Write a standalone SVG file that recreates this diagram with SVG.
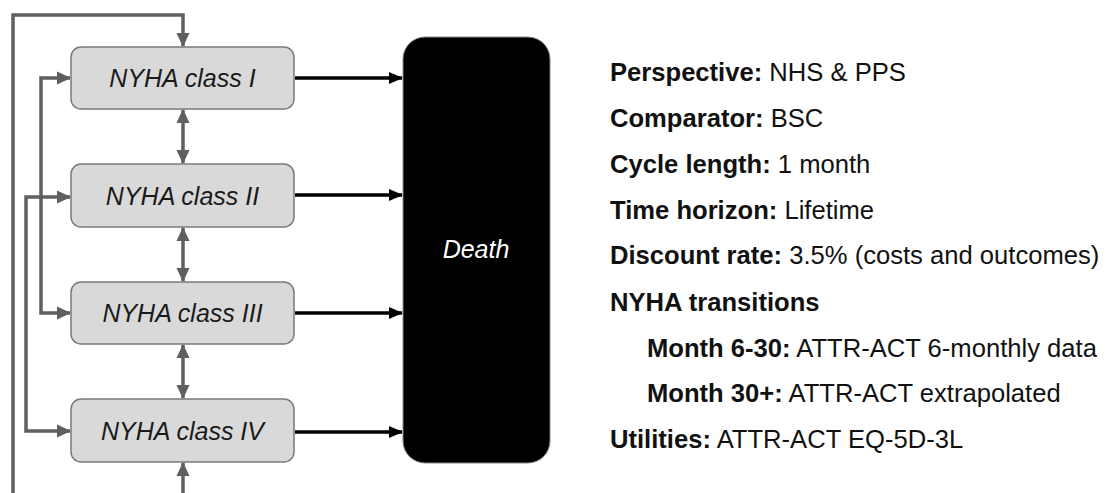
<svg xmlns="http://www.w3.org/2000/svg" width="1108" height="493" viewBox="0 0 1108 493">
<style>
.node rect{fill:#d9d9d9;stroke:#7a7a7a;stroke-width:1.5}
.nt{font-family:"Liberation Sans",Arial,sans-serif;font-size:25px;font-style:italic;fill:#1a1a1a;text-anchor:middle}
.g{fill:none;stroke:#5f5f5f;stroke-width:3.5}
.k{fill:none;stroke:#000;stroke-width:3.5}
.info{font-family:"Liberation Sans",Arial,sans-serif;font-size:25.6px;fill:#111}
.b{font-weight:bold}
</style>
<defs>
<marker id="ga" markerUnits="userSpaceOnUse" markerWidth="14" markerHeight="14" viewBox="0 0 14 14" refX="13" refY="7" orient="auto-start-reverse"><path d="M0,0.5 L14,7 L0,13.5 z" fill="#5f5f5f"/></marker>
<marker id="ka" markerUnits="userSpaceOnUse" markerWidth="14" markerHeight="14" viewBox="0 0 14 14" refX="13" refY="7" orient="auto"><path d="M0,1 L14,7 L0,13 z" fill="#000"/></marker>
</defs>
<g id="connectors">
<path class="g" d="M13,493 L13,15 L183,15 L183,46" marker-end="url(#ga)"/>
<path class="g" d="M183,493 L183,463" marker-end="url(#ga)"/>
<path class="g" d="M70,78 L41,78 L41,313 L70,313" marker-start="url(#ga)" marker-end="url(#ga)"/>
<path class="g" d="M70,197 L26,197 L26,431 L70,431" marker-start="url(#ga)" marker-end="url(#ga)"/>
<path class="g" d="M183,110 L183,163" marker-start="url(#ga)" marker-end="url(#ga)"/>
<path class="g" d="M183,228 L183,281" marker-start="url(#ga)" marker-end="url(#ga)"/>
<path class="g" d="M183,345 L183,398" marker-start="url(#ga)" marker-end="url(#ga)"/>
<path class="k" d="M295,78 L402,78" marker-end="url(#ka)"/>
<path class="k" d="M295,195 L402,195" marker-end="url(#ka)"/>
<path class="k" d="M295,313 L402,313" marker-end="url(#ka)"/>
<path class="k" d="M295,432 L402,432" marker-end="url(#ka)"/>
</g>
<g id="n1" class="node"><rect x="71" y="47" width="223" height="62" rx="10"/><text class="nt" x="182.5" y="87">NYHA class I</text></g>
<g id="n2" class="node"><rect x="71" y="164" width="223" height="63" rx="10"/><text class="nt" x="182.5" y="205">NYHA class II</text></g>
<g id="n3" class="node"><rect x="71" y="282" width="223" height="62" rx="10"/><text class="nt" x="182.5" y="322">NYHA class III</text></g>
<g id="n4" class="node"><rect x="71" y="399" width="223" height="63" rx="10"/><text class="nt" x="182.5" y="440">NYHA class IV</text></g>
<g id="death"><rect x="403" y="37" width="147" height="426" rx="22" fill="#000" stroke="#888" stroke-width="1"/><text class="nt" x="476" y="258" style="fill:#fff">Death</text></g>
<g id="info" class="info">
<text x="610" y="81"><tspan class="b">Perspective:</tspan> NHS &amp; PPS</text>
<text x="610" y="127"><tspan class="b">Comparator:</tspan> BSC</text>
<text x="610" y="173"><tspan class="b">Cycle length:</tspan> 1 month</text>
<text x="610" y="219"><tspan class="b">Time horizon:</tspan> Lifetime</text>
<text x="610" y="264"><tspan class="b">Discount rate:</tspan> 3.5% (costs and outcomes)</text>
<text x="610" y="311"><tspan class="b">NYHA transitions</tspan></text>
<text x="647" y="357"><tspan class="b">Month 6-30:</tspan> ATTR-ACT 6-monthly data</text>
<text x="647" y="402"><tspan class="b">Month 30+:</tspan> ATTR-ACT extrapolated</text>
<text x="610" y="448"><tspan class="b">Utilities:</tspan> ATTR-ACT EQ-5D-3L</text>
</g>
</svg>
